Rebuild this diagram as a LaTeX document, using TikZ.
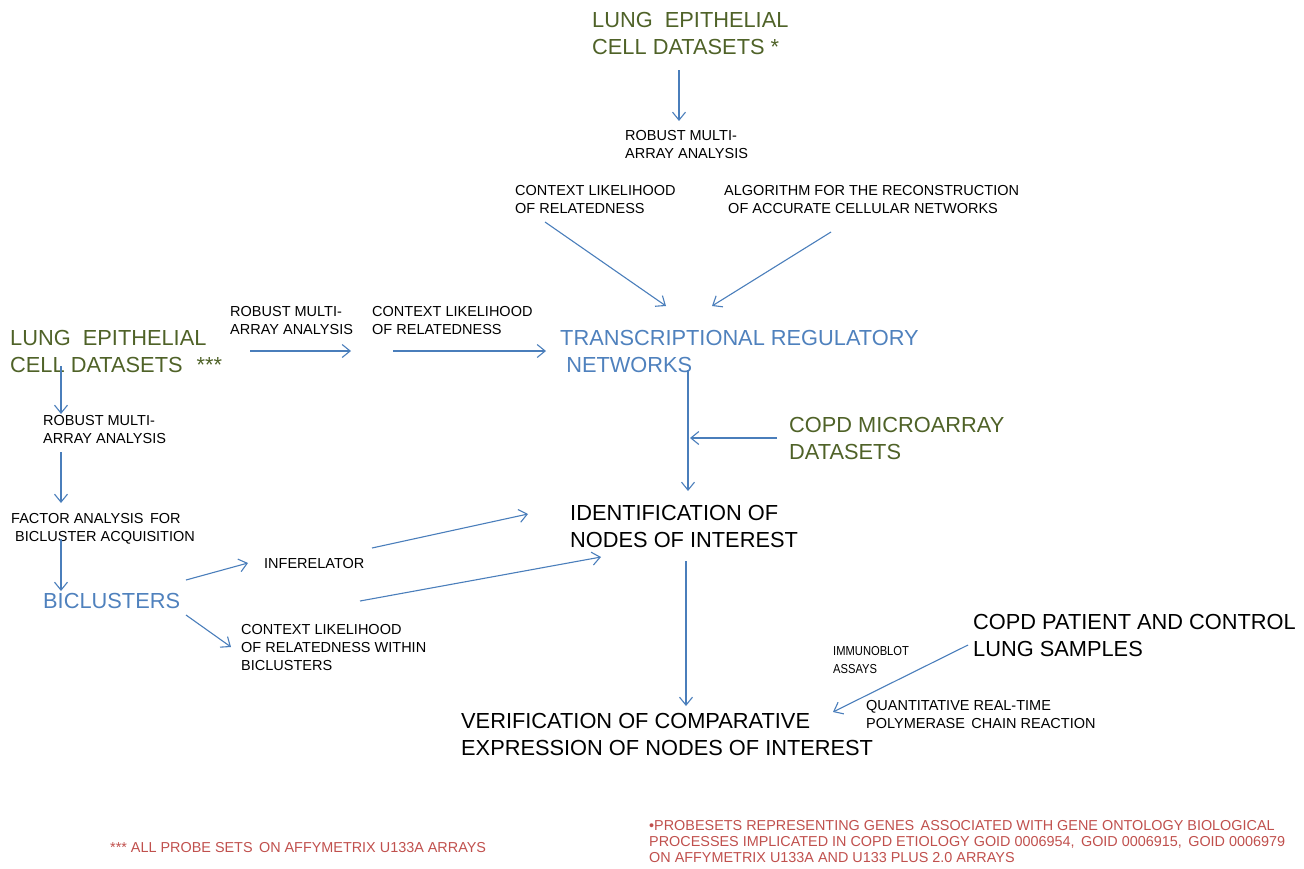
\documentclass[tikz,border=0pt]{standalone}
\usepackage{fontspec}
\setmainfont{Liberation Sans}
\newfontfamily\narrowfont[FakeStretch=0.86]{Liberation Sans}
\usetikzlibrary{arrows.meta}
\definecolor{olivegr}{RGB}{79,98,40}
\definecolor{txtblue}{RGB}{79,129,189}
\definecolor{arrblue}{RGB}{74,126,187}
\definecolor{notered}{RGB}{192,80,77}
\tikzset{
  big/.style={font=\fontsize{21.8}{27}\selectfont, inner sep=0pt, anchor=west, align=left},
  small/.style={font=\fontsize{14.5}{18}\selectfont, inner sep=0pt, anchor=west, align=left},
  tiny/.style={font=\narrowfont\fontsize{13}{18}\selectfont, inner sep=0pt, anchor=west, align=left},
  note/.style={font=\fontsize{14.4}{16}\selectfont, inner sep=0pt, anchor=west, align=left, text=notered},
  arr/.style={draw=arrblue, line width=1.1pt, -{Straight Barb[length=8pt,width=13pt]}},
}
\begin{document}
\begin{tikzpicture}[x=1pt,y=-1pt]
\useasboundingbox (0,0) rectangle (1304,868);
% nodes
\node[big, text=olivegr] (lecTop) at (592,33.5) {LUNG\ \ EPITHELIAL\\CELL DATASETS *};
\node[small] (rmaTop) at (625,145) {ROBUST MULTI-\\ARRAY ANALYSIS};
\node[small] (clrTop) at (515,200) {CONTEXT LIKELIHOOD\\OF RELATEDNESS};
\node[small] (aracne) at (724,200) {ALGORITHM FOR THE RECONSTRUCTION\\\ OF ACCURATE CELLULAR NETWORKS};
\node[big, text=txtblue] (trn) at (560,351) {TRANSCRIPTIONAL REGULATORY\\\ NETWORKS};
\node[big, text=olivegr] (lecLeft) at (10,351) {LUNG\ \ EPITHELIAL\\CELL DATASETS\hspace{14pt}***};
\node[small] (rmaMid) at (230,320.5) {ROBUST MULTI-\\ARRAY ANALYSIS};
\node[small] (clrMid) at (372,320.5) {CONTEXT LIKELIHOOD\\OF RELATEDNESS};
\node[small] (rmaLeft) at (43,429.5) {ROBUST MULTI-\\ARRAY ANALYSIS};
\node[small] (fabia) at (11,528.5) {FACTOR ANALYSIS\, FOR\\\ BICLUSTER ACQUISITION};
\node[big, text=txtblue] (bic) at (43,601) {BICLUSTERS};
\node[small] (inf) at (264,563) {INFERELATOR};
\node[small] (clrBic) at (241,647) {CONTEXT LIKELIHOOD\\OF RELATEDNESS WITHIN\\BICLUSTERS};
\node[big] (ident) at (570,526.5) {IDENTIFICATION OF\\NODES OF INTEREST};
\node[big, text=olivegr] (copdMA) at (789,438.5) {COPD MICROARRAY\\DATASETS};
\node[big] (verif) at (461,734) {VERIFICATION OF COMPARATIVE\\EXPRESSION OF NODES OF INTEREST};
\node[big] (samples) at (973,635) {COPD PATIENT AND CONTROL\\LUNG SAMPLES};
\node[tiny] (immuno) at (833,660) {IMMUNOBLOT\\ASSAYS};
\node[small] (qpcr) at (866,714) {QUANTITATIVE REAL-TIME\\POLYMERASE\, CHAIN REACTION};
\node[note] (noteL) at (110,848) {*** ALL PROBE SETS\, ON AFFYMETRIX U133A ARRAYS};
\node[note] (noteR) at (649,842) {\textbullet PROBESETS REPRESENTING GENES\, ASSOCIATED WITH GENE ONTOLOGY BIOLOGICAL\\PROCESSES IMPLICATED IN COPD ETIOLOGY GOID 0006954,\, GOID 0006915,\, GOID 0006979\\ON AFFYMETRIX U133A AND U133 PLUS 2.0 ARRAYS};
% arrow end points
\coordinate (a1s) at (679,70);  \coordinate (a1e) at (679,121);
\coordinate (a2s) at (545,222); \coordinate (a2e) at (666,306);
\coordinate (a3s) at (831,232); \coordinate (a3e) at (712,306);
\coordinate (a4s) at (250,351); \coordinate (a4e) at (351,351);
\coordinate (a5s) at (393,351); \coordinate (a5e) at (546,351);
\coordinate (a6s) at (61,366);  \coordinate (a6e) at (61,414);
\coordinate (a7s) at (61,452);  \coordinate (a7e) at (61,503);
\coordinate (a8s) at (61,539);  \coordinate (a8e) at (61,591);
\coordinate (a9s) at (186,580); \coordinate (a9e) at (248,563);
\coordinate (a10s) at (186,615); \coordinate (a10e) at (231,647);
\coordinate (a11s) at (372,548); \coordinate (a11e) at (528,514);
\coordinate (a12s) at (360,601); \coordinate (a12e) at (601,557);
\coordinate (a13s) at (688,370); \coordinate (a13e) at (688,491);
\coordinate (a14s) at (777,438); \coordinate (a14e) at (690,438);
\coordinate (a15s) at (686,561); \coordinate (a15e) at (686,706);
\coordinate (a16s) at (968,645); \coordinate (a16e) at (833,712);
% arrows
\draw[arr] (a1s) -- (a1e);
\draw[arr] (a2s) -- (a2e);
\draw[arr] (a3s) -- (a3e);
\draw[arr] (a4s) -- (a4e);
\draw[arr] (a5s) -- (a5e);
\draw[arr] (a6s) -- (a6e);
\draw[arr] (a7s) -- (a7e);
\draw[arr] (a8s) -- (a8e);
\draw[arr] (a9s) -- (a9e);
\draw[arr] (a10s) -- (a10e);
\draw[arr] (a11s) -- (a11e);
\draw[arr] (a12s) -- (a12e);
\draw[arr] (a13s) -- (a13e);
\draw[arr] (a14s) -- (a14e);
\draw[arr] (a15s) -- (a15e);
\draw[arr] (a16s) -- (a16e);
\end{tikzpicture}
\end{document}
